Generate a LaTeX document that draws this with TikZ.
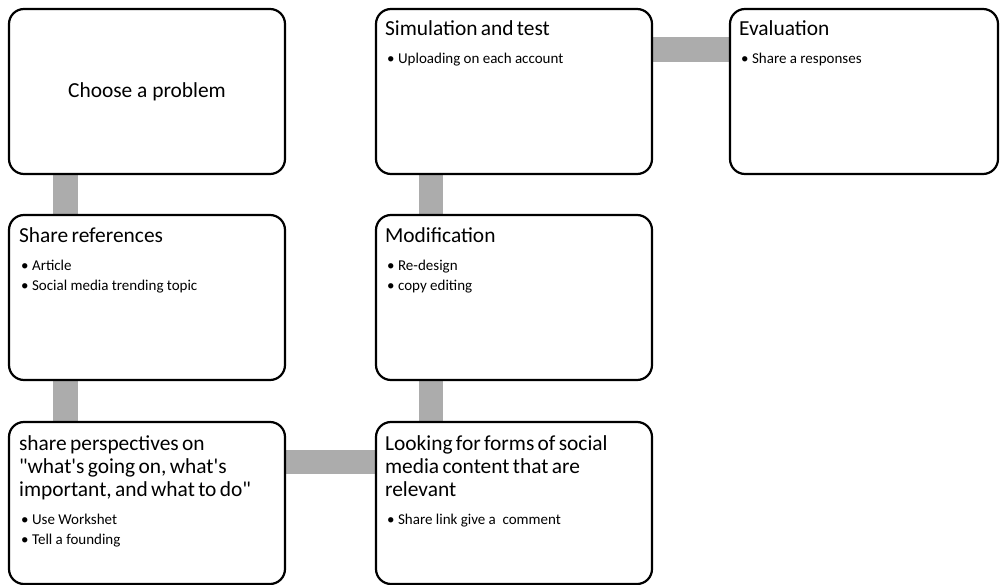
\documentclass[tikz,border=0pt]{standalone}
\usepackage{fontspec}
\setmainfont{Carlito}
\newfontfamily\stepfont{Carlito}
\usetikzlibrary{backgrounds}

\newcommand{\steptitle}[1]{{\fontsize{21.4}{23}\selectfont #1\par}\vspace{8pt}}
\newcommand{\stepitems}[1]{{\fontsize{15}{20}\selectfont #1\par}}
\newcommand{\itm}{\hspace{2pt}\makebox[11pt][l]{\textbullet}}

\begin{document}
\begin{tikzpicture}[x=1pt,y=-1pt,
    stagebox/.style={draw,line width=2.2pt,rounded corners=15pt,fill=white,
        minimum width=276pt,inner sep=0pt,font=\stepfont\fontsize{21.4}{23}\selectfont},
    stagetext/.style={anchor=base west,inner sep=0pt,text width=264pt,align=left,font=\stepfont},
    bar/.style={line width=24.5pt,draw=gray!65}]
    \useasboundingbox (0,0) rectangle (1000,585);
    % boxes
    \node[stagebox,minimum height=165pt] (prob) at (147,91.5) {Choose a problem};
    \node[stagebox,minimum height=165pt] (refs) at (147,297.5) {};
    \node[stagebox,minimum height=162pt] (persp) at (147,503) {};
    \node[stagebox,minimum height=162pt] (look) at (514,503) {};
    \node[stagebox,minimum height=165pt] (mod) at (514,297.5) {};
    \node[stagebox,minimum height=165pt] (sim) at (514,91.5) {};
    \node[stagebox,minimum height=165pt,minimum width=268pt] (eval) at (864,91.5) {};
    % texts
    \node[stagetext] (refs-txt) at ([shift={(11,29)}]refs.north west)
        {\steptitle{Share references}\stepitems{\itm Article\\\itm Social media trending topic}};
    \node[stagetext] (persp-txt) at ([shift={(11,30)}]persp.north west)
        {\steptitle{share perspectives on\\"what's going on, what's\\important, and what to do"}\stepitems{\itm Use Workshet\\\itm Tell a founding}};
    \node[stagetext] (look-txt) at ([shift={(10,30)}]look.north west)
        {\steptitle{Looking for forms of social\\media content that are\\relevant}\stepitems{\itm Share link give a~ comment}};
    \node[stagetext] (mod-txt) at ([shift={(10,29)}]mod.north west)
        {\steptitle{Modification}\stepitems{\itm Re-design\\\itm copy editing}};
    \node[stagetext] (sim-txt) at ([shift={(10,28)}]sim.north west)
        {\steptitle{Simulation and test}\stepitems{\itm Uploading on each account}};
    \node[stagetext] (eval-txt) at ([shift={(10,28)}]eval.north west)
        {\steptitle{Evaluation}\stepitems{\itm Share a responses}};
    % connectors
    \begin{scope}[on background layer]
    \draw[bar] ([xshift=-81.5pt]prob.south) -- ([xshift=-81.5pt]refs.north);
    \draw[bar] ([xshift=-81.5pt]refs.south) -- ([xshift=-81.5pt]persp.north);
    \draw[bar] ([yshift=41pt]persp.east) -- ([yshift=41pt]look.west);
    \draw[bar] ([xshift=-83pt]look.north) -- ([xshift=-83pt]mod.south);
    \draw[bar] ([xshift=-83pt]mod.north) -- ([xshift=-83pt]sim.south);
    \draw[bar] ([yshift=42pt]sim.east) -- ([yshift=42pt]eval.west);
    \end{scope}
\end{tikzpicture}
\end{document}
